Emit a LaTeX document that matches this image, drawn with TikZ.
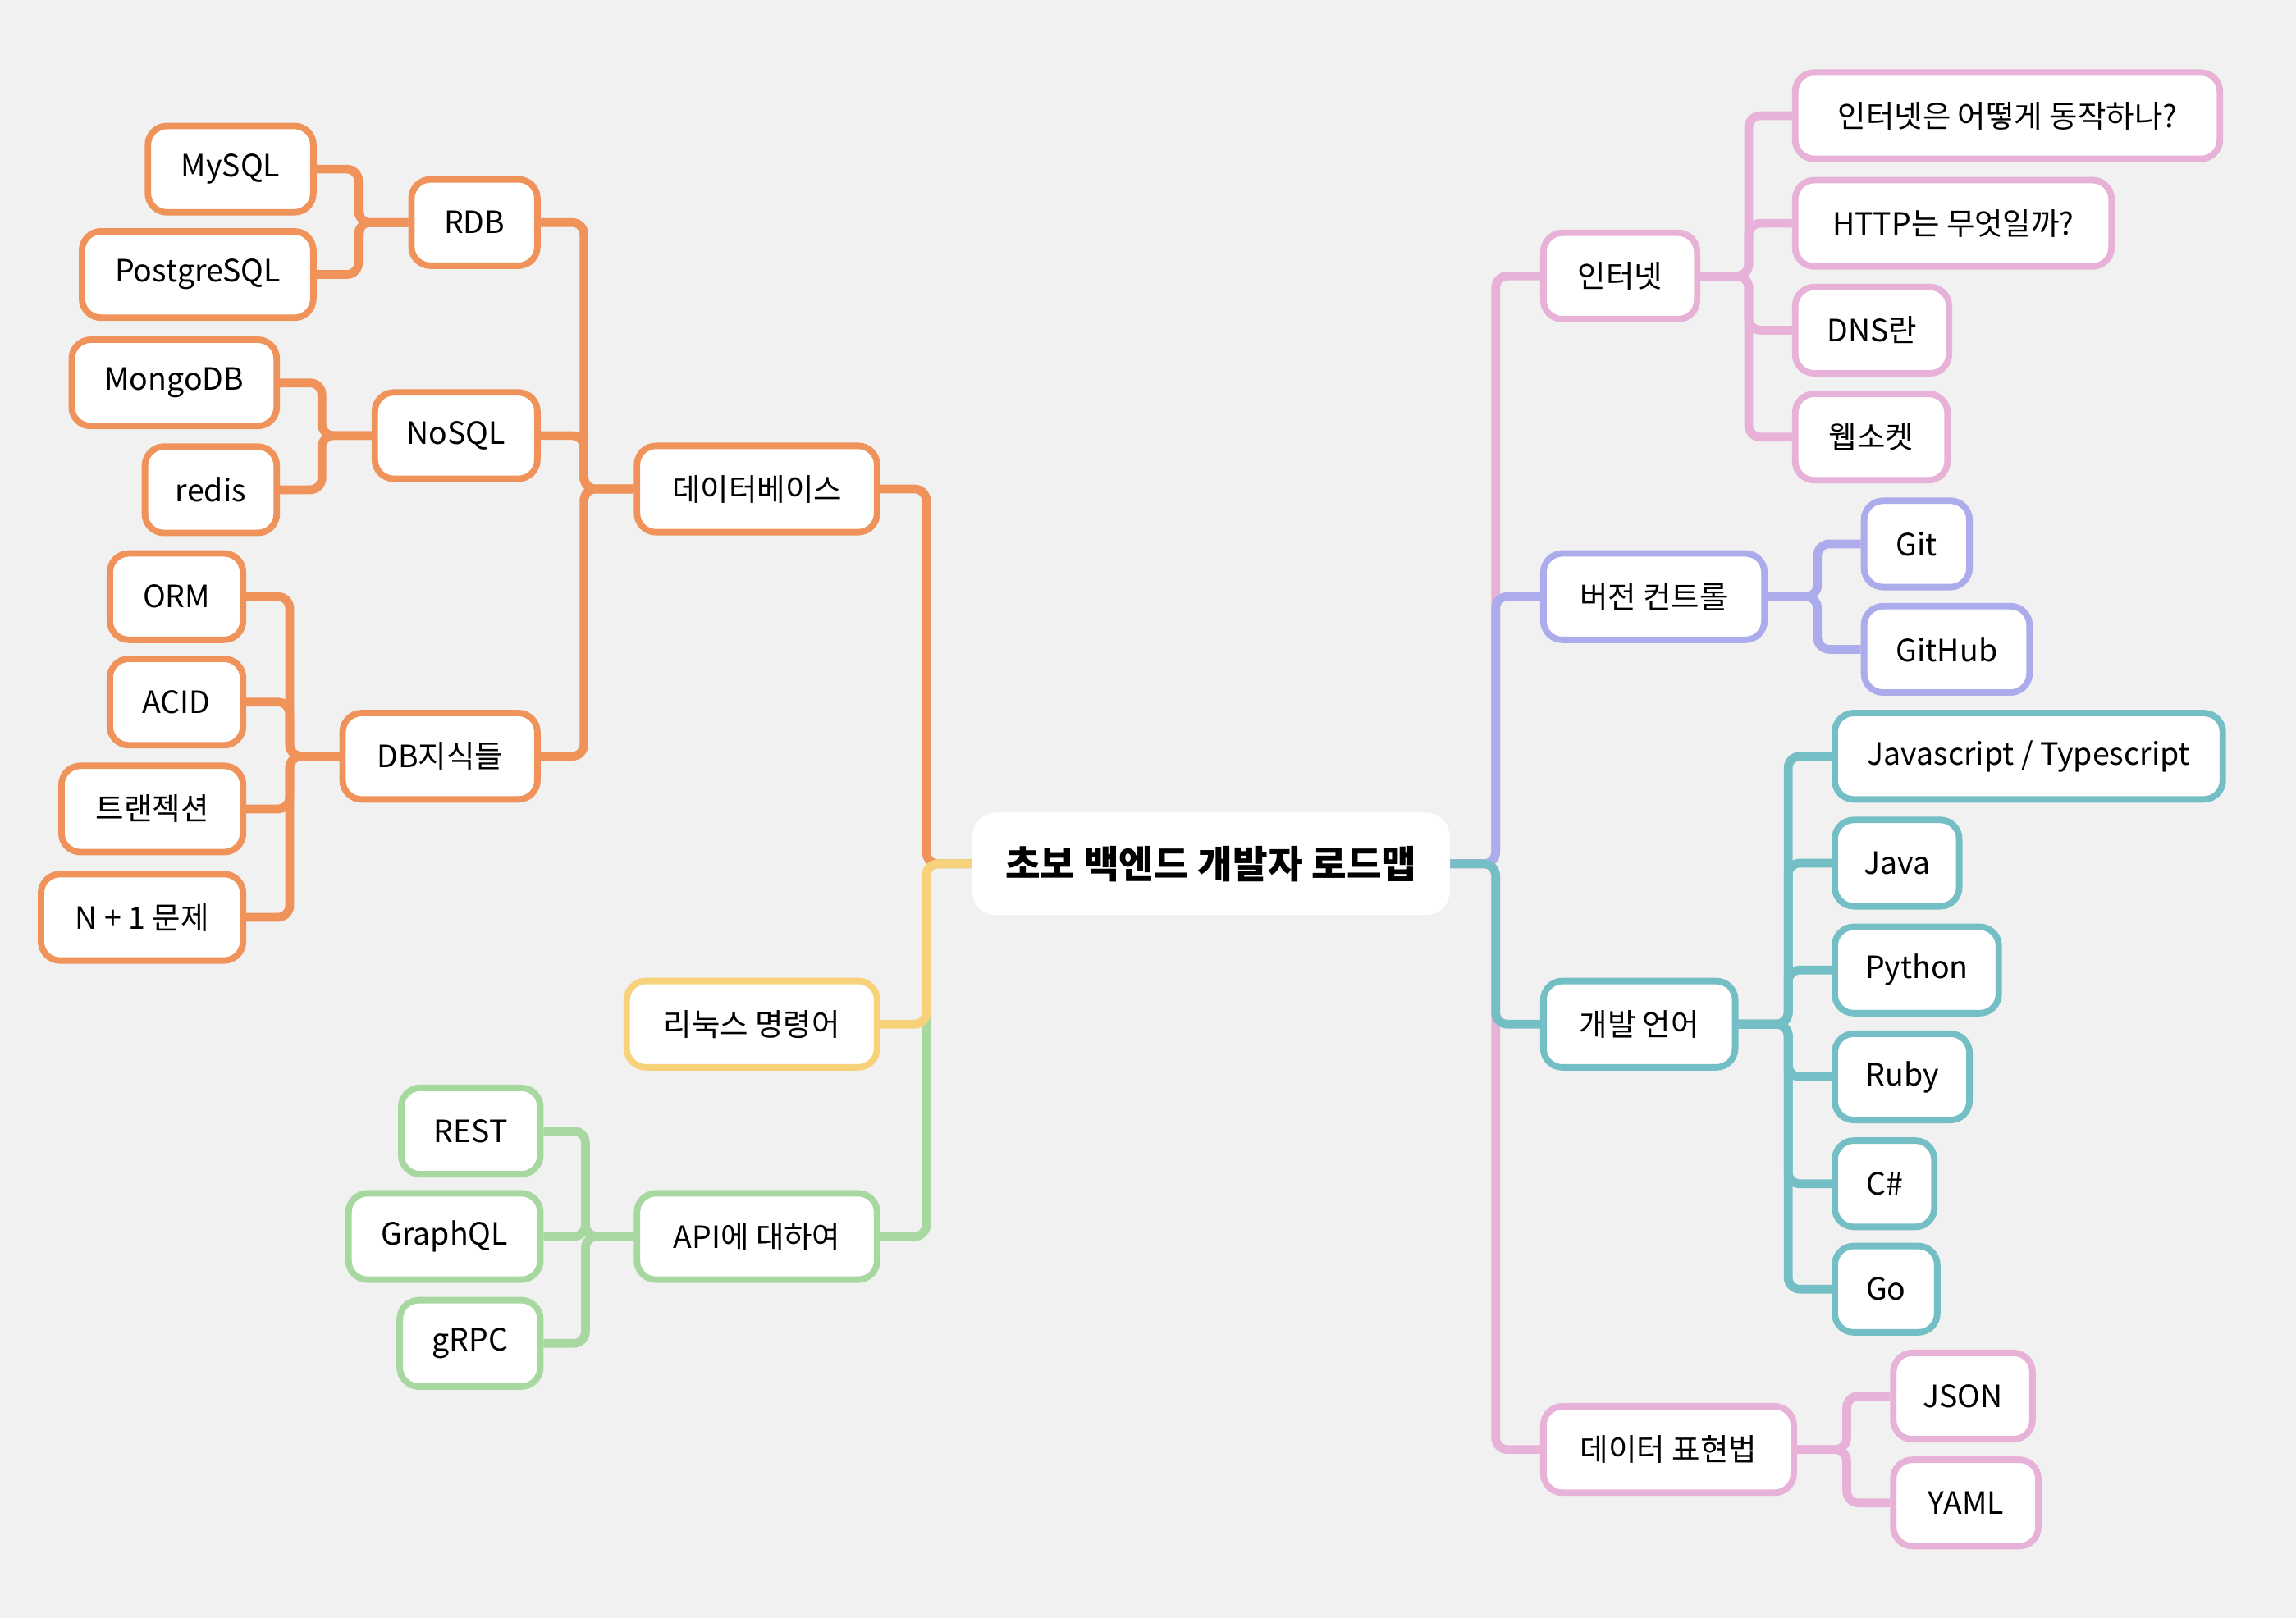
\documentclass[tikz,border=0pt]{standalone}
\usepackage{fontspec}
\setmainfont{Noto Sans CJK KR}
\usetikzlibrary{positioning}

\definecolor{bgcol}{HTML}{F1F1F1}
\definecolor{dbcol}{HTML}{F0935B}
\definecolor{linuxcol}{HTML}{F8D27B}
\definecolor{apicol}{HTML}{A7D8A0}
\definecolor{netcol}{HTML}{E8B2D8}
\definecolor{vcscol}{HTML}{ACACEC}
\definecolor{langcol}{HTML}{74BFC5}

\tikzset{
  topic/.style={draw=#1, line width=2.2pt, fill=white, rounded corners=6.5pt,
    minimum height=29.5pt, inner xsep=0pt, inner ysep=0pt,
    font=\fontsize{10.5}{12}\selectfont},
  link/.style={draw=#1, line width=3pt, rounded corners=4pt},
  rootbox/.style={fill=white, rounded corners=8pt, minimum width=163pt,
    minimum height=35pt, font=\bfseries\fontsize{13}{15}\selectfont}
}

\begin{document}
\begin{tikzpicture}[x=0.5pt, y=-0.5pt]
  \useasboundingbox (0,0) rectangle (1568,1105);
  \fill[bgcol] (0,0) rectangle (1568,1105);

  \node[rootbox] (root) at (827,590) {초보 백엔드 개발자 로드맵};

  % left side
  \node[topic=dbcol, minimum width=82pt] (db) at (517,334) {데이터베이스};
  \node[topic=dbcol, minimum width=43pt] (rdb) at (324,152) {RDB};
  \node[topic=dbcol, minimum width=56.5pt] (mysql) at (157.5,115.5) {MySQL};
  \node[topic=dbcol, minimum width=79pt] (pgsql) at (135,187.5) {PostgreSQL};
  \node[topic=dbcol, minimum width=55.5pt] (nosql) at (311.5,297.5) {NoSQL};
  \node[topic=dbcol, minimum width=70pt] (mongo) at (119,261.5) {MongoDB};
  \node[topic=dbcol, minimum width=45pt] (redis) at (144,334.5) {redis};
  \node[topic=dbcol, minimum width=66.5pt] (dbknow) at (300.5,516.5) {DB지식들};
  \node[topic=dbcol, minimum width=45.5pt] (orm) at (120.5,407.5) {ORM};
  \node[topic=dbcol, minimum width=45.5pt] (acid) at (120.5,479.5) {ACID};
  \node[topic=dbcol, minimum width=62pt] (trans) at (104,552.5) {트랜젝션};
  \node[topic=dbcol, minimum width=69pt] (nplus) at (97,626.5) {N + 1 문제};

  \node[topic=linuxcol, minimum width=85.5pt] (linux) at (513.5,699.5) {리눅스 명령어};

  \node[topic=apicol, minimum width=82pt] (api) at (517,844.5) {API에 대하여};
  \node[topic=apicol, minimum width=47.5pt] (rest) at (321.5,772.5) {REST};
  \node[topic=apicol, minimum width=65.5pt] (graphql) at (303.5,844.5) {GraphQL};
  \node[topic=apicol, minimum width=48pt] (grpc) at (321,917.5) {gRPC};

  % right side
  \node[topic=netcol, minimum width=52.5pt] (net) at (1106.5,188.5) {인터넷};
  \node[topic=netcol, minimum width=145pt] (howweb) at (1371,79) {인터넷은 어떻게 동작하나?};
  \node[topic=netcol, minimum width=108pt] (http) at (1334,152.5) {HTTP는 무엇일까?};
  \node[topic=netcol, minimum width=52.5pt] (dns) at (1278.5,225.5) {DNS란};
  \node[topic=netcol, minimum width=52pt] (socket) at (1278,298.5) {웹소켓};

  \node[topic=vcscol, minimum width=75.5pt] (vcs) at (1129.5,407.5) {버전 컨트롤};
  \node[topic=vcscol, minimum width=36pt] (git) at (1309,371.5) {Git};
  \node[topic=vcscol, minimum width=56.5pt] (github) at (1329.5,443.5) {GitHub};

  \node[topic=langcol, minimum width=65.5pt] (lang) at (1119.5,699.5) {개발 언어};
  \node[topic=langcol, minimum width=132.5pt] (js) at (1385.5,516.5) {Javascript / Typescript};
  \node[topic=langcol, minimum width=42.5pt] (java) at (1295.5,589.5) {Java};
  \node[topic=langcol, minimum width=56pt] (python) at (1309,662.5) {Python};
  \node[topic=langcol, minimum width=46pt] (ruby) at (1299,735.5) {Ruby};
  \node[topic=langcol, minimum width=34pt] (csharp) at (1287,808.5) {C\#};
  \node[topic=langcol, minimum width=35pt] (go) at (1288,880.5) {Go};

  \node[topic=netcol, minimum width=85.5pt] (fmt) at (1139.5,990) {데이터 표현법};
  \node[topic=netcol, minimum width=47.5pt] (json) at (1340.5,953.5) {JSON};
  \node[topic=netcol, minimum width=49.5pt] (yaml) at (1342.5,1026.5) {YAML};

  % links from the root
  \draw[link=dbcol] (root.west) -- ++(-31,0) |- (db.east);
  \draw[link=apicol] (root.west) -- ++(-31,0) |- (api.east);
  \draw[link=linuxcol] (root.west) -- ++(-31,0) |- (linux.east);
  \draw[link=netcol] (root.east) -- ++(31,0) |- (net.west);
  \draw[link=netcol] (root.east) -- ++(31,0) |- (fmt.west);
  \draw[link=vcscol] (root.east) -- ++(31,0) |- (vcs.west);
  \draw[link=langcol] (root.east) -- ++(31,0) |- (lang.west);

  % links inside the branches
  \foreach \c in {rdb,nosql,dbknow}
    \draw[link=dbcol] (db.west) -- ++(-34,0) |- (\c.east);
  \foreach \c in {mysql,pgsql}
    \draw[link=dbcol] (rdb.west) -- ++(-34,0) |- (\c.east);
  \foreach \c in {mongo,redis}
    \draw[link=dbcol] (nosql.west) -- ++(-34,0) |- (\c.east);
  \foreach \c in {orm,acid,trans,nplus}
    \draw[link=dbcol] (dbknow.west) -- ++(-34,0) |- (\c.east);
  \foreach \c in {rest,graphql,grpc}
    \draw[link=apicol] (api.west) -- ++(-33,0) |- (\c.east);
  \foreach \c in {howweb,http,dns,socket}
    \draw[link=netcol] (net.east) -- ++(33,0) |- (\c.west);
  \foreach \c in {git,github}
    \draw[link=vcscol] (vcs.east) -- ++(34,0) |- (\c.west);
  \foreach \c in {js,java,python,ruby,csharp,go}
    \draw[link=langcol] (lang.east) -- ++(34,0) |- (\c.west);
  \foreach \c in {json,yaml}
    \draw[link=netcol] (fmt.east) -- ++(34,0) |- (\c.west);
\end{tikzpicture}
\end{document}
